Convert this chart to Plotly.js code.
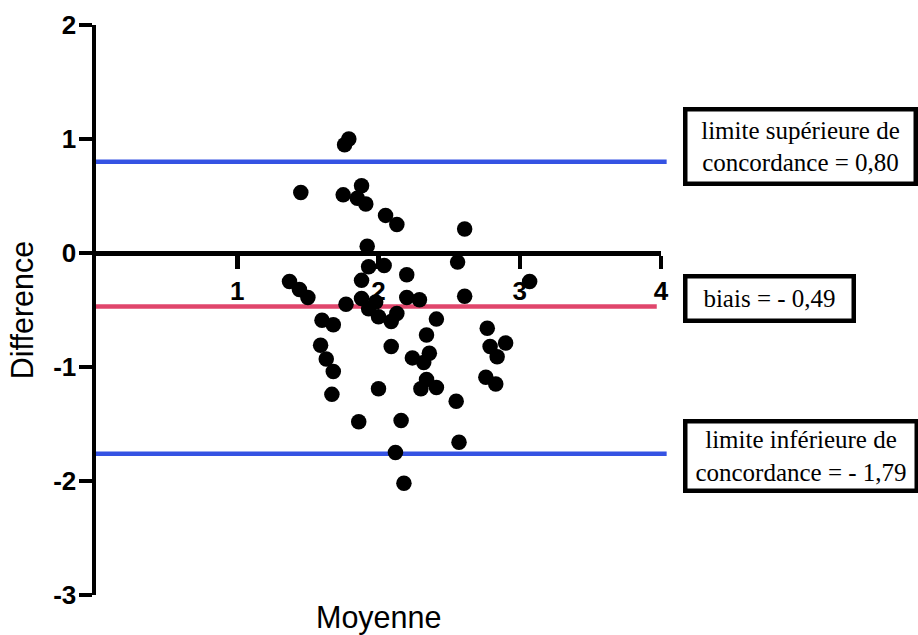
<!DOCTYPE html>
<html>
<head>
<meta charset="utf-8">
<script src="https://cdn.plot.ly/plotly-3.0.1.min.js"></script>
<style>html,body{margin:0;padding:0;background:#fff;}#chart{width:918px;height:635px;}</style>
</head>
<body>
<div id="chart"></div>
<script>
// Bland-Altman data: mean (x) and difference (y)
const meanX = [1.79,1.76,1.45,1.75,1.88,1.85,1.91,2.05,2.13,1.92,1.93,2.04,1.88,1.37,1.44,1.50,1.77,1.88,1.98,1.93,
  2.00,2.09,2.13,2.20,2.29,2.20,2.61,2.56,2.61,3.07,2.41,2.34,2.09,2.24,2.36,2.32,2.34,2.30,2.41,2.00,
  2.55,2.16,2.57,2.12,2.18,1.86,1.67,1.60,1.68,1.59,1.63,1.68,2.77,2.90,2.79,2.84,2.76,2.83];
const diffY = [1.00,0.95,0.53,0.51,0.59,0.48,0.43,0.33,0.25,0.06,-0.12,-0.11,-0.24,-0.25,-0.32,-0.39,-0.45,-0.40,-0.43,-0.49,
  -0.56,-0.60,-0.53,-0.39,-0.41,-0.19,0.21,-0.08,-0.38,-0.25,-0.58,-0.72,-0.82,-0.92,-0.88,-0.96,-1.11,-1.19,-1.18,-1.19,
  -1.30,-1.47,-1.66,-1.75,-2.02,-1.48,-1.24,-0.59,-0.63,-0.81,-0.93,-1.04,-0.66,-0.79,-0.82,-0.91,-1.09,-1.15];

// Reference lines
const upperLimit = 0.80;
const biasValue = -0.47;
const lowerLimit = -1.76;
const blueLineX = [0, 4.04];
const pinkLineX = [0, 3.97];

// Tick labels
const yTickVals = [-3, -2, -1, 0, 1, 2];
const yTickText = ['-3', '-2', '-1', '0', '1', '2'];
const xTickVals = [1, 2, 3, 4];
const xTickText = ['1', '2', '3', '4'];

// Box texts
const upperText = 'limite supérieure de<br>concordance = 0,80';
const biasText = 'biais = - 0,49';
const lowerText = 'limite inférieure de<br>concordance = - 1,79';

const pxPerUnitX = 141.25;
const plotLeft = 96;
const plotWidth = 918 - plotLeft;
const fullRange = plotWidth / pxPerUnitX;

const traces = [
  {x: blueLineX, y: [upperLimit, upperLimit], xaxis: 'x', yaxis: 'y', mode: 'lines',
   line: {color: '#3553e3', width: 4.5}, hoverinfo: 'skip', showlegend: false},
  {x: pinkLineX, y: [biasValue, biasValue], xaxis: 'x', yaxis: 'y', mode: 'lines',
   line: {color: '#e0466c', width: 4.5}, hoverinfo: 'skip', showlegend: false},
  {x: blueLineX, y: [lowerLimit, lowerLimit], xaxis: 'x', yaxis: 'y', mode: 'lines',
   line: {color: '#3553e3', width: 4.5}, hoverinfo: 'skip', showlegend: false},
  {x: meanX, y: diffY, xaxis: 'x2', yaxis: 'y', mode: 'markers', type: 'scatter',
   marker: {color: '#000000', size: 15.5}, cliponaxis: false, showlegend: false}
];

const tickFont = {family: 'Liberation Sans, Arial, sans-serif', size: 26, color: '#000', weight: 'bold'};
const boxFont = {family: 'Liberation Serif, Times New Roman, serif', size: 25, color: '#000'};
const titleFont = {family: 'Liberation Sans, Arial, sans-serif', size: 30.5, color: '#000'};

const layout = {
  width: 918, height: 635,
  margin: {l: plotLeft, r: 0, t: 25, b: 40, pad: 0},
  paper_bgcolor: '#fff', plot_bgcolor: 'rgba(0,0,0,0)',
  showlegend: false,
  xaxis: {domain: [0, 1], range: [0, fullRange], visible: false, fixedrange: true},
  xaxis2: {domain: [0, 4 / fullRange], range: [0, 4], anchor: 'free', position: 0.6,
    showline: true, linecolor: '#000', linewidth: 4.5, showgrid: false, zeroline: false,
    ticks: 'outside', ticklen: 13, tickwidth: 4.5, tickcolor: '#000',
    tickmode: 'array', tickvals: xTickVals, ticktext: xTickText, tickfont: tickFont},
  yaxis: {domain: [0, 1], range: [-3, 2], anchor: 'x',
    showline: true, linecolor: '#000', linewidth: 4.5, showgrid: false, zeroline: false,
    ticks: 'outside', ticklen: 13, tickwidth: 4.5, tickcolor: '#000', ticklabelstandoff: -3,
    tickmode: 'array', tickvals: yTickVals, ticktext: yTickText, tickfont: tickFont,
    title: {text: 'Difference', font: titleFont, standoff: 12}},
  annotations: [
    {xref: 'x', yref: 'y', x: 4.156, y: 0.93, xanchor: 'left', yanchor: 'middle', text: upperText,
     showarrow: false, font: boxFont, align: 'center', bgcolor: '#fff', bordercolor: '#000', borderwidth: 4.5,
     borderpad: 0, width: 226, height: 70},
    {xref: 'x', yref: 'y', x: 4.156, y: -0.395, xanchor: 'left', yanchor: 'middle', text: biasText,
     showarrow: false, font: boxFont, align: 'center', bgcolor: '#fff', bordercolor: '#000', borderwidth: 4.5,
     borderpad: 0, width: 164, height: 40},
    {xref: 'x', yref: 'y', x: 4.156, y: -1.78, xanchor: 'left', yanchor: 'middle', text: lowerText,
     showarrow: false, font: boxFont, align: 'center', bgcolor: '#fff', bordercolor: '#000', borderwidth: 4.5,
     borderpad: 0, width: 227, height: 65},
    {xref: 'x2', yref: 'paper', x: 2, y: -0.04, xanchor: 'center', yanchor: 'middle', text: 'Moyenne',
     showarrow: false, font: titleFont}
  ]
};

Plotly.newPlot('chart', traces, layout, {staticPlot: true, displayModeBar: false});
</script>
</body>
</html>
